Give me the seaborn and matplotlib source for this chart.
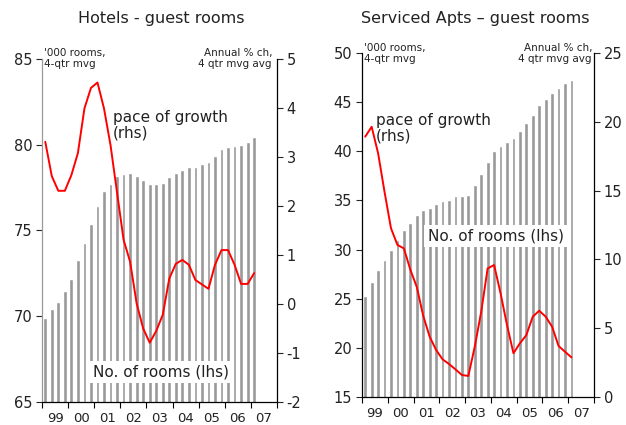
import numpy as np
import seaborn as sns
import matplotlib.pyplot as plt

# quarterly, 1999Q1 .. 2007Q1
year_labels = ["99", "00", "01", "02", "03", "04", "05", "06", "07"]

hotel_rooms = [69.9, 70.4, 70.85, 71.5, 72.2, 73.3, 74.3, 75.4, 76.4, 77.3, 77.7,
               78.2, 78.3, 78.35, 78.2, 77.95, 77.7, 77.7, 77.75, 78.1, 78.35,
               78.5, 78.7, 78.7, 78.9, 79.0, 79.35, 79.75, 79.85, 79.95, 80.0,
               80.15, 80.45]
hotel_growth = [3.31, 2.61, 2.31, 2.31, 2.63, 3.08, 3.99, 4.41, 4.52, 3.99, 3.24,
                2.27, 1.31, 0.86, 0.01, -0.5, -0.79, -0.55, -0.22, 0.52, 0.82,
                0.90, 0.80, 0.49, 0.40, 0.31, 0.80, 1.10, 1.10, 0.80, 0.41,
                0.41, 0.63]

apt_rooms = [25.3, 26.7, 27.9, 28.9, 30.0, 31.0, 32.0, 32.7, 33.55, 34.0, 34.25,
             34.6, 34.95, 35.05, 35.4, 35.4, 35.55, 36.6, 37.7, 38.9, 40.0,
             40.5, 40.9, 41.35, 42.1, 42.9, 43.7, 44.7, 45.35, 45.96, 46.4,
             46.9, 47.3]
apt_growth = [18.92, 19.64, 17.71, 14.9, 12.26, 11.05, 10.8, 9.25, 8.0, 5.9, 4.38,
              3.42, 2.74, 2.40, 2.01, 1.60, 1.53, 3.66, 6.2, 9.35, 9.59, 7.54,
              5.23, 3.18, 3.9, 4.5, 5.84, 6.27, 5.84, 5.11, 3.71, 3.29, 2.88]

sns.set_theme(style="ticks")
plt.rcParams["font.family"] = ["DejaVu Sans"]
plt.rcParams["axes.unicode_minus"] = False

W, H = 626, 425
fig = plt.figure(figsize=(W / 100, H / 100), dpi=100)
TXT = "#222222"


def px(x, y):
    return x / W, 1 - y / H


def panel(box, rooms, growth, lylim, lyticks, rylim, ryticks, left_spine):
    x0, y0, x1, y1 = box
    ax = fig.add_axes([x0 / W, 1 - y1 / H, (x1 - x0) / W, (y1 - y0) / H])
    n = len(rooms)
    sns.barplot(x=np.arange(n), y=rooms, color="#999999", saturation=1,
                width=0.58, ax=ax)
    ax2 = ax.twinx()
    sns.lineplot(x=np.arange(n), y=growth, color="#ff0000", lw=1.4, ax=ax2)

    for a in (ax, ax2):
        a.set_xlim(-0.5, 35.5)
        a.set_xlabel("")
        a.set_ylabel("")
        a.spines["top"].set_visible(False)
        a.grid(False)
    ax.set_ylim(*lylim)
    ax.set_yticks(lyticks)
    ax2.set_ylim(*rylim)
    ax2.set_yticks(ryticks)

    ax.set_xticks(np.arange(-0.5, 36, 4))
    ax.set_xticklabels([])
    ax.set_xticks(np.arange(1.5, 36, 4), minor=True)
    ax.set_xticklabels(year_labels, minor=True)
    ax.tick_params(axis="x", which="major", length=4, width=0.8, color="black")
    ax.tick_params(axis="x", which="minor", length=0, pad=7,
                   labelsize=9.5, labelcolor=TXT)
    ax.tick_params(axis="y", length=4, width=0.8, labelsize=10.5,
                   labelcolor=TXT, pad=3)
    ax2.tick_params(axis="y", length=4, width=0.8, labelsize=10.5,
                    labelcolor=TXT, pad=3)

    ax.spines["right"].set_visible(False)
    ax.spines["left"].set_color(left_spine)
    ax.spines["bottom"].set_color("black")
    ax2.spines["left"].set_visible(False)
    ax2.spines["bottom"].set_visible(False)
    ax2.spines["right"].set_color("black")
    for a in (ax, ax2):
        for s in a.spines.values():
            s.set_linewidth(0.9)
    return ax, ax2


ax_h, ax_h2 = panel((42, 59, 277, 402), hotel_rooms, hotel_growth,
                    (65, 85), [65, 70, 75, 80, 85], (-2, 5), range(-2, 6),
                    "#999999")
ax_s, ax_s2 = panel((362, 53, 594, 397), apt_rooms, apt_growth,
                    (15, 50), range(15, 51, 5), (0, 25), range(0, 26, 5),
                    "black")

# titles
fig.text(*px(161, 18), "Hotels - guest rooms", ha="center", va="center",
         fontsize=11.5, color=TXT)
fig.text(*px(475, 18), "Serviced Apts \u2013 guest rooms", ha="center",
         va="center", fontsize=11.5, color=TXT)

# unit notes
for xl, xr, yt in [(44, 272, 48), (364, 592, 43)]:
    fig.text(*px(xl, yt), "'000 rooms,\n4-qtr mvg", ha="left", va="top",
             fontsize=7.5, color=TXT, linespacing=1.1)
    fig.text(*px(xr, yt), "Annual % ch,\n4 qtr mvg avg", ha="right", va="top",
             fontsize=7.5, color=TXT, linespacing=1.1)

# series labels
fig.text(*px(113, 110), "pace of growth\n(rhs)", ha="left", va="top",
         fontsize=11, color=TXT, linespacing=1.05)
fig.text(*px(376, 113), "pace of growth\n(rhs)", ha="left", va="top",
         fontsize=11, color=TXT, linespacing=1.05)

box = dict(boxstyle="square,pad=0.25", fc="white", ec="none")
fig.text(*px(161, 372), "No. of rooms (lhs)", ha="center", va="center",
         fontsize=11, color=TXT, bbox=box, zorder=5)
fig.text(*px(496, 236), "No. of rooms (lhs)", ha="center", va="center",
         fontsize=11, color=TXT, bbox=box, zorder=5)

fig.savefig("out.png", dpi=100)
